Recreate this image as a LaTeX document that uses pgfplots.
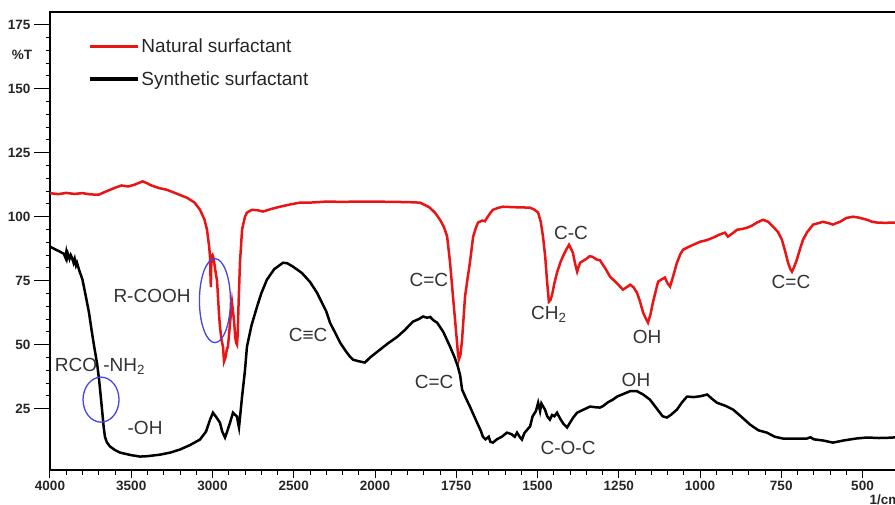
\documentclass[border=0pt]{standalone}
\usepackage{pgfplots}
\pgfplotsset{compat=1.18}
\usepackage{fontspec}
\setmainfont{Liberation Sans}

\definecolor{natred}{RGB}{235,20,20}
\definecolor{ellblue}{RGB}{70,70,225}
\newcommand{\ann}{\fontsize{19}{19}\selectfont\color{black!80}}

\begin{document}
\begin{tikzpicture}
\begin{axis}[
    at={(50pt,34pt)}, anchor=south west,
    scale only axis,
    width=877.5pt, height=458pt,
    % wavenumber axis: half scale above 2000 1/cm, as on the FTIR printout
    x coord trafo/.code={\pgfmathparse{#1>=2000 ? (4000-#1)/2 : 3000-#1}},
    xmin=4000, xmax=300,
    ymin=1, ymax=180,
    xtick={4000,3500,3000,2500,2000,1750,1500,1250,1000,750,500},
    xticklabels={4000,3500,3000,2500,2000,1750,1500,1250,1000,750,500},
    minor x tick num=4,
    ytick={25,50,75,100,125,150,175},
    minor y tick num=4,
    extra y ticks={25,50,75,100,125,150,175},
    extra y tick labels={},
    extra y tick style={major tick length=16pt},
    tick pos=left,
    tick align=outside,
    major tick length=8pt,
    minor tick length=4.5pt,
    every tick/.style={black, line width=1pt},
    axis line style={line width=1.2pt},
    tick label style={font=\bfseries\fontsize{13.5}{13.5}\selectfont, text=black!85},
    yticklabel style={xshift=-8pt},
    /pgf/number format/assume math mode=true,
    legend style={draw=none, fill=none, at={(0.04,0.95)}, anchor=north west,
        font=\fontsize{19}{19}\selectfont, row sep=13pt, text=black!85},
    legend cell align=left,
    legend image code/.code={\draw[#1, line width=3.2pt] (0pt,0pt) -- (48pt,0pt);},
]
\addplot[natred, line width=2.5pt] coordinates {
(4000,109.2) (3950,108.8) (3900,109.3) (3850,108.9) (3800,109.2) (3750,108.7)
(3700,108.6) (3650,110) (3600,111.3) (3560,112.2) (3520,111.8) (3480,112.5)
(3430,113.8) (3400,113) (3380,112.3) (3330,111.2) (3280,110.5) (3220,109)
(3157,107.4) (3110,105.5) (3077,102.7) (3050,99) (3034,95) (3020,88) (3015,84)
(3012,76) (3010,72.5) (3008,80) (3005,84.5) (3000,85) (2995,84) (2991,82.7)
(2980,78) (2972,75) (2960,62) (2954,57) (2945,52) (2935,49) (2929,43.4)
(2920,45) (2912,48) (2905,49.2) (2898,54) (2892,58.6) (2880,66.4) (2874,63)
(2868,59.8) (2860,53) (2855,50.8) (2849,50) (2845,54) (2840,65) (2831,82)
(2818,95) (2800,100) (2788,101.6) (2757,102.7) (2720,102.5) (2689,102)
(2640,103) (2585,103.9) (2520,104.8) (2462,105.5) (2400,105.5) (2300,105.9)
(2200,105.8) (2100,105.9) (2000,105.9) (1950,105.8) (1900,105.7) (1862,105.5)
(1845,104.5) (1831,103.5) (1815,101.5) (1800,98.8) (1788,96) (1778,92.2)
(1769,82) (1760,68.75) (1751,55.9) (1745,46.9) (1742,44.1) (1737,46) (1732,52)
(1723,68.75) (1715,76) (1708,82) (1698,92.2) (1690,95.5) (1683,97.7)
(1670,98.5) (1662,98.2) (1655,99.6) (1645,101.5) (1637,102.7) (1620,103.5)
(1606,103.9) (1570,103.7) (1540,103.6) (1523,103.5) (1510,102.8) (1498,101.6)
(1490,98) (1483,92.2) (1476,84) (1471,75.4) (1465,66.8) (1460,67.5)
(1455,69.5) (1448,74) (1440,78.1) (1430,82) (1422,84.4) (1412,87) (1403,89)
(1397,87.5) (1391,85.9) (1385,82) (1378,78.5) (1373,80.5) (1369,82)
(1350,83.5) (1340,84.5) (1332,84.4) (1317,83.2) (1308,83) (1290,79.5)
(1277,76.6) (1260,74.5) (1246,72.7) (1237,71.5) (1225,72.5) (1215,73.4)
(1205,72.5) (1194,70.3) (1185,67) (1175,62.5) (1168,60.5) (1160,58.6)
(1152,62) (1145,66.4) (1137,70.5) (1129,74.6) (1118,75.5) (1108,76.2)
(1100,74) (1092,72.7) (1082,77) (1071,82) (1060,85.5) (1052,87.1) (1030,88.5)
(1000,90.2) (980,90.8) (960,91.8) (940,93) (923,93.75) (914,92.2) (900,93.5)
(886,94.9) (870,95.2) (855,95.7) (840,96.5) (825,97.7) (806,98.8) (790,98)
(775,96.1) (760,94) (748,91) (738,86.5) (729,82) (722,79.5) (717,78.5)
(710,80.5) (702,83.2) (692,87.5) (683,91) (670,94) (652,96.9) (635,97.5)
(622,98) (605,97.5) (591,96.9) (580,97.5) (569,98) (550,99.5) (529,100)
(510,99.6) (486,98.8) (470,98) (455,97.7) (430,97.6) (406,97.7) (380,97.6)
};
\addlegendentry{Natural surfactant}
\addplot[black, line width=2.5pt] coordinates {
(4000,88.3) (3970,87.3) (3938,86.3) (3915,85.5) (3905,84) (3900,86) (3895,84)
(3890,85.5) (3880,83.5) (3872,85) (3865,84) (3855,82) (3848,83.5) (3840,81)
(3834,82) (3820,79) (3800,75.4) (3780,69) (3760,62.5) (3745,56) (3728,49.2)
(3710,42.5) (3698,36.3) (3688,30) (3678,23.4) (3670,18) (3662,14) (3650,11.8)
(3631,10.2) (3600,8.8) (3569,7.8) (3500,6.8) (3446,6.25) (3400,6.4) (3323,7)
(3260,7.8) (3200,9) (3140,10.7) (3077,12.9) (3040,16) (3015,20.7) (2997,23.4)
(2975,21.5) (2954,19.5) (2940,16) (2923,13.7) (2910,16) (2892,19.5)
(2874,23.4) (2860,22.5) (2849,21.9) (2843,19.5) (2837,17.6) (2830,22)
(2818,29.7) (2800,40) (2788,49.2) (2760,57.5) (2726,64.8) (2700,70)
(2665,75.4) (2620,79.5) (2566,82) (2540,81.8) (2505,80.5) (2450,78)
(2400,74.5) (2357,70.3) (2300,63) (2277,58.6) (2240,54) (2215,50.8)
(2180,47.5) (2154,45.3) (2135,44.1) (2100,43.5) (2062,43) (2030,45)
(2000,46.5) (1985,48) (1960,50.5) (1932,53) (1910,55.5) (1883,59) (1865,60)
(1852,61) (1840,60.5) (1830,60.8) (1820,59.5) (1809,58.6) (1790,55)
(1769,49.2) (1755,45) (1745,41.4) (1738,38) (1732,32.4) (1720,29) (1708,25.8)
(1700,23.5) (1686,19.5) (1675,16.5) (1668,14) (1660,13) (1650,14) (1645,12)
(1637,11.7) (1625,13) (1610,14) (1594,15.6) (1580,15) (1570,14) (1563,15.6)
(1555,14) (1548,12.9) (1540,15.5) (1530,17) (1523,18) (1515,22) (1505,24)
(1498,27.3) (1492,24) (1488,27) (1477,24.6) (1470,22) (1462,20.7) (1455,22.5)
(1448,22) (1440,23.4) (1430,21) (1420,19) (1409,17.6) (1400,19.5) (1390,21.5)
(1378,23.4) (1360,24.5) (1338,25.8) (1320,25.5) (1308,25.4) (1298,26)
(1283,27.5) (1268,28.5) (1255,29.7) (1240,30.5) (1215,31.8) (1194,31.8)
(1175,30.5) (1154,28.5) (1130,24.5) (1115,22) (1102,21.5) (1090,22.5)
(1071,24.6) (1055,27.5) (1040,29.7) (1020,29.5) (1000,29.8) (978,30.5)
(960,28.5) (948,27.3) (920,26) (898,24.6) (870,21.5) (846,18.75) (820,16.5)
(794,15.6) (770,14) (745,13.3) (710,13.3) (671,13.3) (660,13.8) (650,13)
(620,12.5) (591,11.7) (560,12.5) (520,13.3) (486,13.7) (450,13.5) (420,13.6)
(406,13.7) (380,13.8)
};
\addlegendentry{Synthetic surfactant}

% band assignments
\node[font=\ann] at (axis cs:3372,69.1) {R-COOH};
\node[font=\ann] at (axis cs:2412,53.9) {C≡C};
\node[font=\ann, anchor=west] at (axis cs:3992,41.4) {RCO\,\,-NH\textsubscript{2}};
\node[font=\ann] at (axis cs:3415,17.6) {-OH};
\node[font=\ann] at (axis cs:1834,75.4) {C=C};
\node[font=\ann] at (axis cs:1465,61.7) {CH\textsubscript{2}};
\node[font=\ann] at (axis cs:1397,93.75) {C-C};
\node[font=\ann] at (axis cs:1818,35.5) {C=C};
\node[font=\ann] at (axis cs:1406,9.8) {C-O-C};
\node[font=\ann] at (axis cs:1197,36.3) {OH};
\node[font=\ann] at (axis cs:1163,53.1) {OH};
\node[font=\ann] at (axis cs:720,74.6) {C=C};
\draw[ellblue, line width=1.3pt] (axis cs:3686,28.5) ellipse [x radius=18pt, y radius=22.5pt];
\draw[ellblue, line width=1.3pt] (axis cs:2985,67.2) ellipse [x radius=15.5pt, y radius=42pt];
\end{axis}
\node[font=\bfseries\fontsize{13.5}{13.5}\selectfont, text=black!85] at (22pt,449pt) {\%T};
\node[font=\bfseries\fontsize{13.5}{13.5}\selectfont, text=black!85, anchor=west] at (866pt,4pt) {1/cm};
\pgfresetboundingbox
\path[use as bounding box] (0pt,0pt) rectangle (895pt,504pt);
\end{tikzpicture}
\end{document}
